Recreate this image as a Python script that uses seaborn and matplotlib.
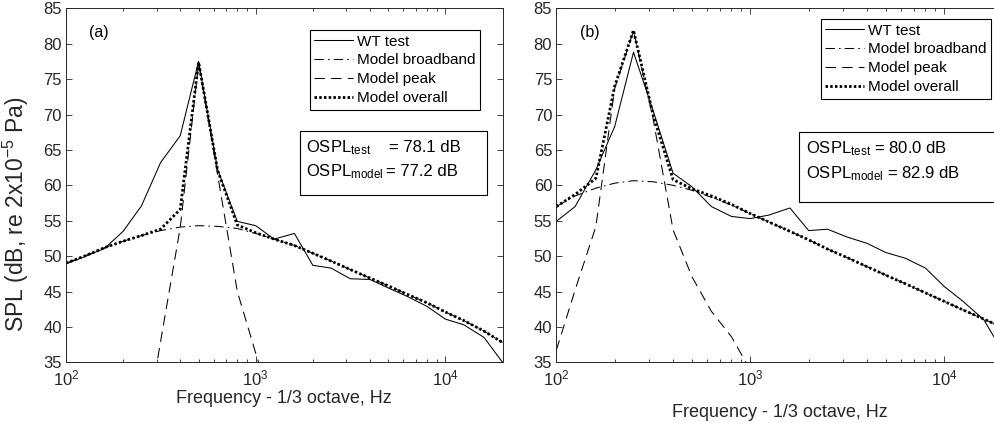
import numpy as np
import matplotlib
matplotlib.use("Agg")
import matplotlib.pyplot as plt
from matplotlib.patches import Rectangle
import seaborn as sns

# ---------------- data ----------------
bands = [100, 125, 160, 200, 250, 315, 400, 500, 630, 800, 1000, 1250, 1600,
         2000, 2500, 3150, 4000, 5000, 6300, 8000, 10000, 12500, 16000, 20000]

# panel (a)
wt_a = [48.9, 49.9, 51.1, 53.5, 57.1, 63.2, 67.0, 77.5, 62.2, 54.9, 54.3, 52.4, 53.2,
        48.7, 48.3, 46.8, 46.7, 45.5, 44.3, 42.9, 41.1, 40.3, 38.5, 35.0]
bb_a = [49.0, 50.0, 51.2, 52.1, 52.9, 53.6, 54.1, 54.3, 54.2, 53.9, 53.2, 52.4, 51.5,
        50.4, 49.3, 48.1, 46.9, 45.8, 44.6, 43.4, 42.1, 40.9, 39.4, 37.8]
peak_freq_a = [250, 315, 400, 500, 630, 800, 1000, 1250]
peak_a = [22.0, 37.9, 54.0, 77.2, 61.5, 45.0, 36.3, 28.0]
ov_a = [49.0, 50.0, 51.2, 52.1, 52.9, 53.8, 56.6, 77.4, 62.1, 54.4, 53.3, 52.4, 51.5,
        50.4, 49.3, 48.1, 46.9, 45.8, 44.6, 43.4, 42.1, 40.9, 39.4, 37.8]

# panel (b)
wt_b = [54.9, 57.0, 62.2, 68.3, 78.8, 70.6, 61.7, 59.8, 57.0, 55.6, 55.3, 55.8, 56.8,
        53.6, 53.8, 52.7, 51.8, 50.5, 49.7, 48.3, 45.7, 43.6, 41.0, 36.5]
bb_b = [57.0, 58.5, 59.6, 60.3, 60.65, 60.5, 60.0, 59.3, 58.3, 57.2, 56.0, 54.8, 53.5,
        52.3, 51.0, 49.8, 48.5, 47.3, 46.1, 44.8, 43.6, 42.4, 41.1, 39.9]
peak_freq_b = [100, 125, 160, 200, 250, 315, 400, 500, 630, 800, 1000]
peak_b = [36.7, 45.2, 54.2, 73.7, 81.8, 69.5, 53.7, 47.1, 42.2, 38.6, 33.9]
ov_b = [57.0, 58.7, 61.0, 74.0, 81.9, 70.0, 60.8, 59.5, 58.5, 57.3, 56.0, 54.8, 53.5,
        52.3, 51.0, 49.8, 48.5, 47.3, 46.1, 44.8, 43.6, 42.4, 41.1, 39.9]

labels = ["WT test", "Model broadband", "Model peak", "Model overall"]
ospl_a = ("78.1", "77.2")
ospl_b = ("80.0", "82.9")

# ---------------- style ----------------
sns.set_theme(style="ticks")
plt.rcParams["font.family"] = ["Liberation Sans", "DejaVu Sans"]
plt.rcParams["mathtext.fontset"] = "custom"
plt.rcParams["mathtext.rm"] = "Liberation Sans"
plt.rcParams["mathtext.it"] = "Liberation Sans:italic"
plt.rcParams["mathtext.bf"] = "Liberation Sans:bold"
TXT = "#262626"

W, H = 994, 423
fig = plt.figure(figsize=(W / 100, H / 100), dpi=100)

ax_bottom_px, ax_top_px = 362.3, 8.3
ax_h = (ax_bottom_px - ax_top_px) / H
ax_b = (H - ax_bottom_px) / H
ax1 = fig.add_axes([66.0 / W, ax_b, 436.5 / W, ax_h])
ax2 = fig.add_axes([556.3 / W, ax_b, 446.4 / W, ax_h])

LW = 0.75
styles = [
    dict(linestyle="-", lw=LW),
    dict(linestyle=(0, (9, 4, 1.5, 4)), lw=LW),
    dict(linestyle=(0, (10, 6)), lw=LW),
    dict(linestyle=(0, (0.9, 0.8)), lw=2.0),
]


def draw(ax, wt, bb, pf, pk, ov):
    series = [(bands, wt), (bands, bb), (pf, pk), (bands, ov)]
    for (x, y), st, lab in zip(series, styles, labels):
        sns.lineplot(x=x, y=y, ax=ax, color="black", sort=False,
                     label=lab, **st)
    ax.set_xscale("log")
    ax.set_xlim(100, 20000)
    ax.set_ylim(35, 85)
    ax.set_yticks(np.arange(35, 86, 5))
    ax.tick_params(which="both", direction="in", top=True, right=True,
                   colors=TXT, labelcolor=TXT, labelsize=12, width=0.6)
    ax.tick_params(which="major", length=4.5)
    ax.tick_params(axis="y", pad=3)
    ax.tick_params(axis="x", pad=4.5)
    ax.tick_params(which="minor", length=2.5)
    for s in ax.spines.values():
        s.set_color(TXT)
        s.set_linewidth(0.7)
    ax.set_xlabel("")
    ax.set_ylabel("")


draw(ax1, wt_a, bb_a, peak_freq_a, peak_a, ov_a)
draw(ax2, wt_b, bb_b, peak_freq_b, peak_b, ov_b)

ax1.set_ylabel(r"SPL (dB, re 2x10$^{-5}$ Pa)", fontsize=16.5, color=TXT)
ax1.yaxis.set_label_coords(-0.080, 0.42)
ax1.set_xlabel("Frequency - 1/3 octave, Hz", fontsize=13, color=TXT, labelpad=1)
ax2.set_xlabel("Frequency - 1/3 octave, Hz", fontsize=13, color=TXT, labelpad=11)


def px2ax(ax_left_px, ax_w_px, px, py):
    return (px - ax_left_px) / ax_w_px, (ax_bottom_px - py) / (ax_bottom_px - ax_top_px)


# panel tags
x, y = px2ax(66.0, 436.5, 89, 33)
ax1.text(x, y, "(a)", transform=ax1.transAxes, fontsize=11.5, color="black",
         ha="left", va="center")
x, y = px2ax(556.3, 446.4, 580, 33)
ax2.text(x, y, "(b)", transform=ax2.transAxes, fontsize=11.5, color="black",
         ha="left", va="center")


def legend(ax, right, top):
    leg = ax.legend(loc="upper right", bbox_to_anchor=(right, top),
                    frameon=True, fancybox=False, framealpha=1, edgecolor="black",
                    fontsize=11, handlelength=2.55, handletextpad=0.25,
                    labelspacing=0.32, borderpad=0.3, borderaxespad=0)
    leg.get_frame().set_linewidth(0.8)
    for t in leg.get_texts():
        t.set_color("black")


x, y = px2ax(66.0, 436.5, 480, 30)
legend(ax1, x, y)
x, y = px2ax(556.3, 446.4, 991, 19)
legend(ax2, x, y)


def box(ax, left_px, w_px, x0, y0, x1, y1):
    ax0, ay1 = px2ax(left_px, w_px, x0, y0)
    ax1_, ay0 = px2ax(left_px, w_px, x1, y1)
    r = Rectangle((ax0, ay0), ax1_ - ax0, ay1 - ay0, transform=ax.transAxes,
                  facecolor="white", edgecolor="black", lw=0.8, clip_on=False,
                  zorder=5)
    ax.add_patch(r)


def t(ax, left_px, w_px, px, py, s, size=12):
    x, y = px2ax(left_px, w_px, px, py)
    ax.text(x, y, s, transform=ax.transAxes, fontsize=size, color="black",
            ha="left", va="baseline", zorder=6, clip_on=False)


# OSPL boxes (text placed at baseline)
box(ax1, 66.0, 436.5, 300, 131, 487, 195)
t(ax1, 66.0, 436.5, 306, 152, r"OSPL$_{\mathrm{test}}$")
t(ax1, 66.0, 436.5, 389, 152, "= " + ospl_a[0] + " dB")
t(ax1, 66.0, 436.5, 306, 176, r"OSPL$_{\mathrm{model}}$")
t(ax1, 66.0, 436.5, 386, 176, "= " + ospl_a[1] + " dB")

box(ax2, 556.3, 446.4, 799, 132, 1000, 202)
t(ax2, 556.3, 446.4, 806, 153, r"OSPL$_{\mathrm{test}}$ = " + ospl_b[0] + " dB")
t(ax2, 556.3, 446.4, 806, 178, r"OSPL$_{\mathrm{model}}$ = " + ospl_b[1] + " dB")

fig.savefig("out.png", dpi=100)
